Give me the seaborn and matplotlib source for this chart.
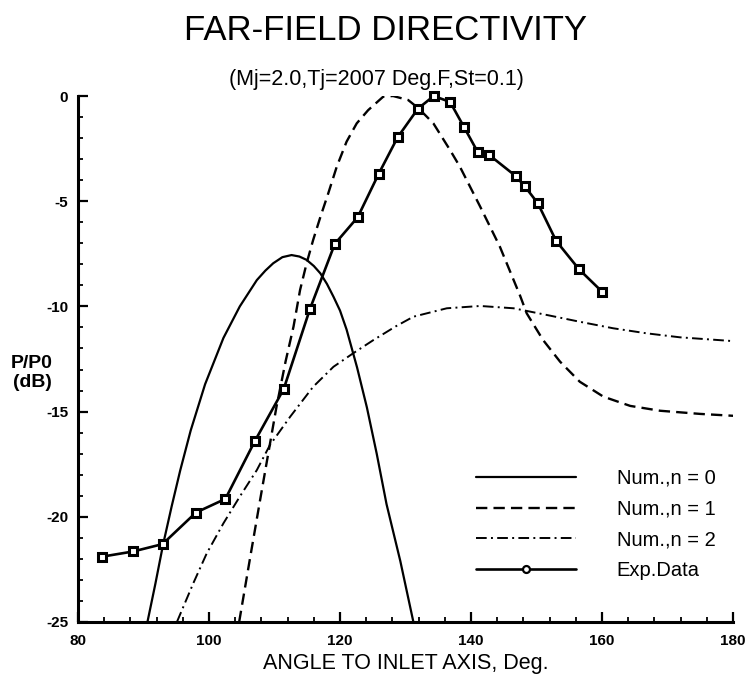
import matplotlib
matplotlib.use("Agg")
import matplotlib.pyplot as plt
from matplotlib.lines import Line2D
from matplotlib.ticker import MultipleLocator
import seaborn as sns

# ---------------- data ----------------
exp_angle = [83.6, 88.4, 92.9, 98.0, 102.5, 107.0, 111.4, 115.4, 119.2, 122.7,
             125.9, 128.8, 131.9, 134.3, 136.8, 138.9, 141.0, 142.8, 146.8,
             148.2, 150.2, 153.0, 156.5, 160.0]
exp_db = [-21.9, -21.65, -21.3, -19.8, -19.15, -16.4, -13.93, -10.13, -7.03, -5.76,
          -3.70, -1.96, -0.60, 0.0, -0.28, -1.46, -2.65, -2.81, -3.80,
          -4.29, -5.10, -6.89, -8.24, -9.30]

n0_angle = [90.6, 91.8, 93.0, 94.3, 95.6, 97.2, 99.4, 102.2, 104.7, 107.3, 108.6,
            109.8, 111.2, 112.6, 113.8, 114.9, 116.0, 117.0, 118.0, 119.0, 120.0,
            121.0, 122.6, 124.1, 125.6, 127.1, 129.2, 131.2]
n0_db = [-25.0, -23.2, -21.3, -19.5, -17.8, -15.9, -13.7, -11.5, -10.0, -8.75, -8.3,
         -7.95, -7.66, -7.56, -7.63, -7.79, -8.08, -8.43, -8.93, -9.54, -10.2,
         -11.1, -12.9, -14.8, -17.0, -19.4, -22.1, -25.0]

n1_angle = [104.6, 106.3, 107.8, 109.05, 110.3, 111.7, 112.9, 113.9, 114.9, 115.9,
            117.0, 118.2, 119.5, 121.0, 122.55, 124.3, 126.6, 128.1, 130.4, 132.0,
            134.25, 136.8, 138.3, 141.4, 144.4, 147.5, 148.5, 151.0, 153.6, 156.6,
            160.2, 164.3, 168.85, 174.96, 180.0]
n1_db = [-25.0, -21.9, -19.2, -16.98, -14.77, -12.6, -10.96, -9.22, -7.95, -6.84,
         -5.75, -4.63, -3.36, -2.17, -1.30, -0.67, -0.03, 0.0, -0.19, -0.59,
         -1.30, -2.57, -3.36, -5.26, -7.16, -9.5, -10.33, -11.6, -12.63, -13.58,
         -14.29, -14.73, -14.96, -15.11, -15.2]

n2_angle = [95.1, 97.6, 99.65, 102.2, 104.7, 107.3, 109.3, 112.4, 115.9, 119.0,
            122.0, 125.1, 128.5, 131.2, 136.3, 141.4, 146.5, 151.6, 156.6, 161.7,
            166.8, 171.9, 180.0]
n2_db = [-25.0, -23.16, -21.74, -20.31, -19.04, -17.78, -16.59, -15.24, -13.82, -12.87,
         -12.23, -11.6, -10.95, -10.49, -10.09, -9.98, -10.09, -10.41, -10.73, -11.04,
         -11.28, -11.47, -11.65]

x_ticks = [80, 100, 120, 140, 160, 180]
y_ticks = [0, -5, -10, -15, -20, -25]
legend_labels = ["Num.,n = 0", "Num.,n = 1", "Num.,n = 2", "Exp.Data"]
title_text = "FAR-FIELD DIRECTIVITY"
subtitle_text = "(Mj=2.0,Tj=2007 Deg.F,St=0.1)"
xlabel_text = "ANGLE TO INLET AXIS, Deg."
ylabel_text = "P/P0\n(dB)"

# ---------------- styling ----------------
sns.set_theme(style="ticks")
plt.rcParams["font.family"] = ["Liberation Sans", "DejaVu Sans"]
plt.rcParams["axes.unicode_minus"] = False
plt.rcParams["text.color"] = "black"
plt.rcParams["axes.labelcolor"] = "black"
plt.rcParams["xtick.color"] = "black"
plt.rcParams["ytick.color"] = "black"
plt.rcParams["xtick.labelcolor"] = "black"
plt.rcParams["ytick.labelcolor"] = "black"

fig = plt.figure(figsize=(7.48, 6.79), dpi=100)
ax = fig.add_axes([0.1043, 0.0840, 0.8757, 0.7746])

DASH = (0, (4.8, 2.6))
DASHDOT = (0, (5.5, 2.2, 1.0, 2.2))

sns.lineplot(x=n0_angle, y=n0_db, ax=ax, color="black", sort=False,
             estimator=None, linewidth=1.6)
sns.lineplot(x=n1_angle, y=n1_db, ax=ax, color="black", sort=False,
             estimator=None, linewidth=1.7)
ax.lines[-1].set_linestyle(DASH)
sns.lineplot(x=n2_angle, y=n2_db, ax=ax, color="black", sort=False,
             estimator=None, linewidth=1.4)
ax.lines[-1].set_linestyle(DASHDOT)
sns.lineplot(x=exp_angle, y=exp_db, ax=ax, color="black", sort=False,
             estimator=None, linewidth=1.9, marker="s")
exp_line = ax.lines[-1]
exp_line.set_markersize(5.5)
exp_line.set_markerfacecolor("white")
exp_line.set_markeredgecolor("black")
exp_line.set_markeredgewidth(2.2)
exp_line.set_clip_on(False)

ax.set_xlim(80, 180)
ax.set_ylim(-25, 0)
ax.set_xticks(x_ticks)
ax.set_yticks(y_ticks)
ax.xaxis.set_minor_locator(MultipleLocator(4))
ax.yaxis.set_minor_locator(MultipleLocator(1))

for s in ["top", "right"]:
    ax.spines[s].set_visible(False)
for s in ["left", "bottom"]:
    ax.spines[s].set_linewidth(2.2)
    ax.spines[s].set_color("black")

ax.tick_params(which="major", direction="in", length=7, width=1.6,
               labelsize=11, color="black", labelcolor="black")
ax.tick_params(axis="x", which="major", pad=9)
ax.tick_params(axis="y", which="major", pad=7)
ax.tick_params(which="minor", direction="in", length=3.5, width=1.3, color="black")
for lab in ax.get_xticklabels() + ax.get_yticklabels():
    lab.set_fontweight("bold")

ax.set_xlabel(xlabel_text, fontsize=15.5, labelpad=3, color="black")
ax.set_ylabel("")
ax.text(-0.07, 0.473, ylabel_text, transform=ax.transAxes, ha="center",
        va="center", fontsize=14, fontweight="bold", linespacing=1.15)

fig.text(0.516, 1 - 30 / 679, title_text, ha="center", va="center", fontsize=25)
fig.text(0.503, 1 - 79 / 679, subtitle_text, ha="center", va="center", fontsize=15.5)

handles = [
    Line2D([], [], color="black", lw=1.6),
    Line2D([], [], color="black", lw=1.7, linestyle=DASH),
    Line2D([], [], color="black", lw=1.4, linestyle=DASHDOT),
    Line2D([], [], color="black", lw=1.9, marker="o", markersize=5,
           markerfacecolor="white", markeredgecolor="black", markeredgewidth=1.6),
]
ax.legend(handles, legend_labels, loc="upper left", bbox_to_anchor=(0.607, 0.291),
          frameon=False, handlelength=4.97, handletextpad=2.04, labelspacing=0.58,
          borderpad=0, borderaxespad=0, fontsize=14.5)

fig.savefig("out.png", dpi=100)
